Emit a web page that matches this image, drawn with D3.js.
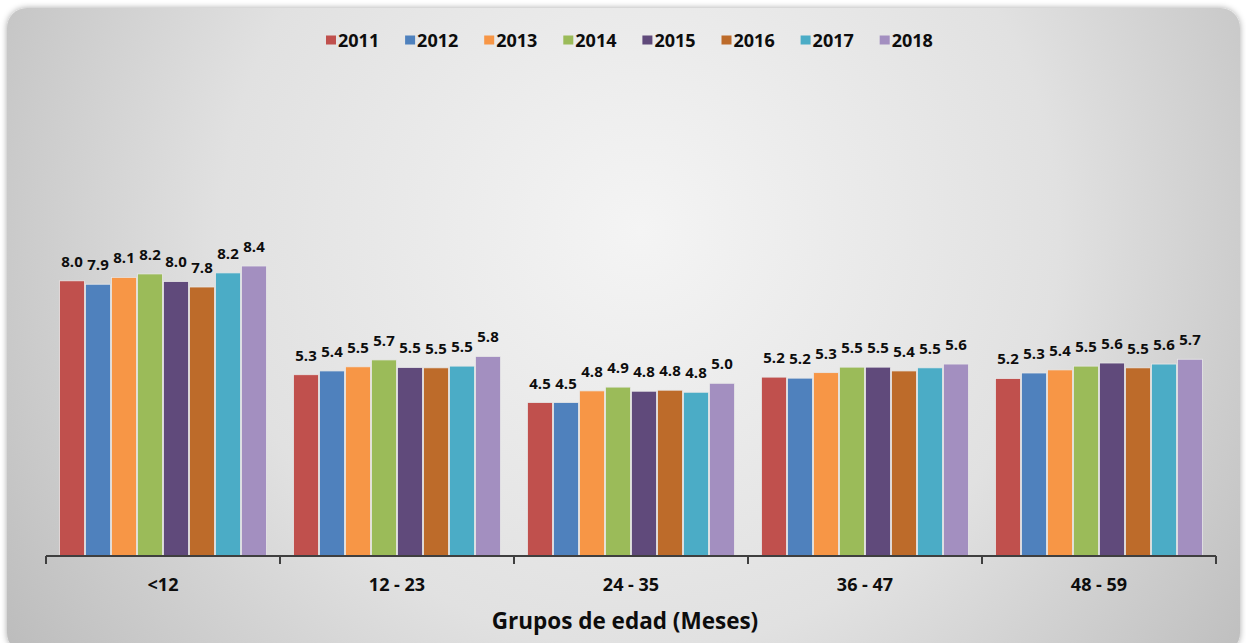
<!DOCTYPE html>
<html>
<head>
<meta charset="utf-8">
<script src="https://cdn.jsdelivr.net/npm/d3@7"></script>
<style>
  body { margin: 0; background: #ffffff; }
  svg text { font-family: "Open Sans", sans-serif; font-weight: bold; fill: #0d0d0d; }
</style>
</head>
<body>
<div id="chart"></div>
<script>
// chart data
var groups = ["<12", "12 - 23", "24 - 35", "36 - 47", "48 - 59"];
var years = ["2011", "2012", "2013", "2014", "2015", "2016", "2017", "2018"];
var colors = ["#c0504d", "#4f81bd", "#f79646", "#9bbb59", "#604a7b", "#bd6b2a", "#4bacc6", "#a38fc0"];
var v2011 = [8.00, 5.27, 4.46, 5.20, 5.16];
var v2012 = [7.90, 5.38, 4.46, 5.17, 5.32];
var v2013 = [8.10, 5.50, 4.80, 5.33, 5.41];
var v2014 = [8.20, 5.70, 4.91, 5.49, 5.52];
var v2015 = [7.98, 5.48, 4.79, 5.49, 5.61];
var v2016 = [7.82, 5.47, 4.82, 5.38, 5.47];
var v2017 = [8.23, 5.52, 4.76, 5.47, 5.58];
var v2018 = [8.43, 5.80, 5.02, 5.58, 5.72];
var series = [v2011, v2012, v2013, v2014, v2015, v2016, v2017, v2018];

var W = 1246, H = 643;
var svg = d3.select("#chart").append("svg").attr("width", W).attr("height", H);
var defs = svg.append("defs");

// background gradient of the frame
var bg = defs.append("radialGradient").attr("id", "bg")
  .attr("gradientUnits", "userSpaceOnUse")
  .attr("cx", 640).attr("cy", 230).attr("r", 760);
bg.append("stop").attr("offset", "0%").attr("stop-color", "#f4f4f4");
bg.append("stop").attr("offset", "55%").attr("stop-color", "#e1e1e1");
bg.append("stop").attr("offset", "100%").attr("stop-color", "#bcbcbc");

var shadow = defs.append("filter").attr("id", "shadow")
  .attr("x", "-5%").attr("y", "-5%").attr("width", "110%").attr("height", "110%");
shadow.append("feDropShadow").attr("dx", 0).attr("dy", 0).attr("stdDeviation", 3)
  .attr("flood-color", "#000").attr("flood-opacity", 0.35);

svg.append("rect")
  .attr("x", 7).attr("y", 8).attr("width", 1233).attr("height", 645)
  .attr("rx", 20).attr("ry", 20)
  .attr("fill", "url(#bg)")
  .attr("filter", "url(#shadow)");

// plot area
var left = 46, right = 1216, base = 556;
var x0 = d3.scaleBand().domain(groups).range([left, right]).paddingInner(0).paddingOuter(0);
var x1 = d3.scaleBand().domain(years).range([0, x0.bandwidth()]).paddingOuter(0.5).paddingInner(0);
var y = d3.scaleLinear().domain([0, 16]).range([base, base - 16 * 34.4]);

var g = svg.append("g");
years.forEach(function(yr, i) {
  var sg = g.append("g");
  sg.selectAll("rect").data(series[i]).enter().append("rect")
    .attr("x", function(d, j) { return x0(groups[j]) + x1(yr) + 0.5; })
    .attr("y", function(d) { return y(d); })
    .attr("width", x1.bandwidth() - 1)
    .attr("height", function(d) { return base - y(d); })
    .attr("fill", colors[i])
    .attr("stroke", "#e8e8e8").attr("stroke-width", 0.8);
  sg.selectAll("text").data(series[i]).enter().append("text")
    .attr("x", function(d, j) { return x0(groups[j]) + x1(yr) + x1.bandwidth() / 2; })
    .attr("y", function(d) { return y(d) - 14; })
    .attr("text-anchor", "middle")
    .style("font-size", "15px")
    .text(function(d) { return d.toFixed(1); });
});

// x axis
var ax = svg.append("g").attr("transform", "translate(0," + base + ")");
ax.append("line").attr("x1", left).attr("x2", right).attr("y1", 0).attr("y2", 0)
  .attr("stroke", "#3f3f3f").attr("stroke-width", 2);
var tickPos = groups.map(function(gr) { return x0(gr); }).concat([right]);
ax.selectAll(".tk").data(tickPos).enter().append("line")
  .attr("x1", function(d) { return d; }).attr("x2", function(d) { return d; })
  .attr("y1", 0).attr("y2", 8)
  .attr("stroke", "#3f3f3f").attr("stroke-width", 2);
ax.selectAll(".lb").data(groups).enter().append("text")
  .attr("x", function(d) { return x0(d) + x0.bandwidth() / 2; })
  .attr("y", 35)
  .attr("text-anchor", "middle")
  .style("font-size", "18px")
  .text(function(d) { return d; });

svg.append("text")
  .attr("x", 625).attr("y", 629)
  .attr("text-anchor", "middle")
  .style("font-size", "22.5px")
  .text("Grupos de edad (Meses)");

// legend
var lg = svg.append("g").attr("transform", "translate(326,40)");
var lx = 0;
years.forEach(function(yr, i) {
  var it = lg.append("g").attr("transform", "translate(" + lx + ",0)");
  it.append("rect").attr("x", 0).attr("y", -4.5).attr("width", 10).attr("height", 9).attr("fill", colors[i]);
  it.append("text").attr("x", 12).attr("y", 6.5).style("font-size", "18px").text(yr);
  lx += 79.1;
});
</script>
</body>
</html>
